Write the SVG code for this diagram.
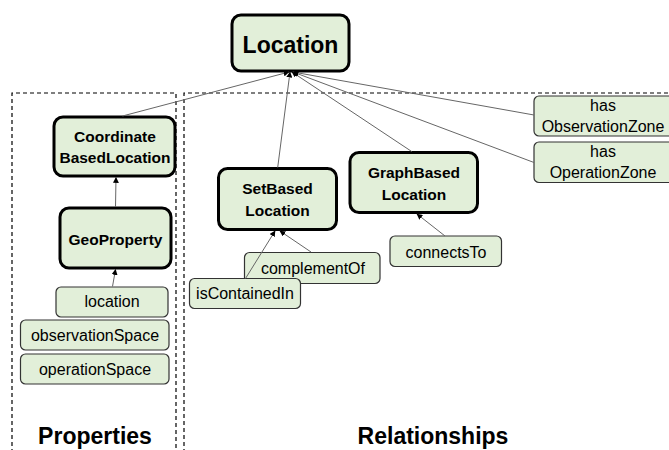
<svg xmlns="http://www.w3.org/2000/svg" width="669" height="450" viewBox="0 0 669 450">
<style>
.main{fill:#e2efd9;stroke:#000;stroke-width:3}
.prop{fill:#e2efd9;stroke:#333;stroke-width:1.2}
.t{font-family:"Liberation Sans",Arial,sans-serif;text-anchor:middle;fill:#000}
.b{font-weight:bold;font-size:15.5px}
.r{font-size:16px}
.h{font-weight:bold;font-size:23px}
.dash{fill:none;stroke:#000;stroke-width:1.2;stroke-dasharray:4,3}
.c{stroke:#666;stroke-width:1;fill:none;marker-end:url(#ah)}
</style>
<defs>
<marker id="ah" viewBox="0 0 10 10" refX="9" refY="5" markerWidth="6" markerHeight="6" markerUnits="userSpaceOnUse" orient="auto">
<path d="M0,0 L10,5 L0,10 z" fill="#000"/>
</marker>
</defs>
<rect width="669" height="450" fill="#fff"/>
<g id="groups">
<path class="dash" d="M12,460 V93 H176 V460"/>
<path class="dash" d="M184,460 V93 H680"/>
<text class="t h" x="95" y="444">Properties</text>
<text class="t h" x="433" y="444">Relationships</text>
</g>
<g id="n-location">
<rect class="main" x="232" y="15" width="117" height="56" rx="9"/>
<text class="t" x="290.5" y="52.5" style="font-weight:bold;font-size:23px">Location</text>
</g>
<g id="n-cbl">
<rect class="main" x="54" y="117" width="121" height="59" rx="9"/>
<text class="t b" x="115" y="142">Coordinate</text>
<text class="t b" x="115" y="163">BasedLocation</text>
</g>
<g id="n-geo">
<rect class="main" x="60" y="208" width="111" height="60" rx="9"/>
<text class="t b" x="115.5" y="245">GeoProperty</text>
</g>
<g id="n-locprop">
<rect class="prop" x="56" y="287" width="112" height="30" rx="5"/>
<text class="t r" x="112" y="307">location</text>
</g>
<g id="n-obsspace">
<rect class="prop" x="20.5" y="320" width="148.5" height="30" rx="5"/>
<text class="t r" x="95" y="340.5">observationSpace</text>
</g>
<g id="n-opspace">
<rect class="prop" x="20.5" y="354" width="148.5" height="30" rx="5"/>
<text class="t r" x="95" y="375">operationSpace</text>
</g>
<g id="n-setbased">
<rect class="main" x="218.5" y="168.5" width="118" height="61" rx="9"/>
<text class="t b" x="277.5" y="194">SetBased</text>
<text class="t b" x="277.5" y="216">Location</text>
</g>
<g id="n-graphbased">
<rect class="main" x="350" y="152.5" width="127.5" height="60" rx="9"/>
<text class="t b" x="414" y="178">GraphBased</text>
<text class="t b" x="414" y="199.5">Location</text>
</g>
<g id="n-complement">
<rect class="prop" x="244.5" y="252.5" width="135.5" height="31" rx="5"/>
<text class="t r" x="313" y="274">complementOf</text>
</g>
<g id="n-contained">
<rect class="prop" x="189.5" y="278.5" width="111" height="30" rx="5"/>
<text class="t r" x="245" y="298.5">isContainedIn</text>
</g>
<g id="n-connects">
<rect class="prop" x="390" y="236" width="111.5" height="30.5" rx="5"/>
<text class="t r" x="446" y="258">connectsTo</text>
</g>
<g id="n-obszone">
<rect class="prop" x="534" y="96" width="140" height="40" rx="5"/>
<text class="t r" x="603" y="111">has</text>
<text class="t r" x="603" y="132">ObservationZone</text>
</g>
<g id="n-opzone">
<rect class="prop" x="534" y="142" width="140" height="40.5" rx="5"/>
<text class="t r" x="603" y="157">has</text>
<text class="t r" x="603" y="178">OperationZone</text>
</g>
<g id="connectors">
<line class="c" x1="122.5" y1="116" x2="289" y2="72"/>
<line class="c" x1="277.7" y1="167.5" x2="290" y2="72"/>
<line class="c" x1="411.7" y1="151.5" x2="292" y2="72"/>
<line class="c" x1="534" y1="115" x2="293" y2="72"/>
<line class="c" x1="534" y1="162.5" x2="293" y2="72"/>
<line class="c" x1="115.5" y1="207" x2="116" y2="177.5"/>
<line class="c" x1="112.5" y1="286.5" x2="115.5" y2="269.5"/>
<line class="c" x1="445" y1="236" x2="417" y2="214"/>
<line class="c" x1="311" y1="252" x2="280" y2="231"/>
<line class="c" x1="245.5" y1="278.5" x2="275" y2="231"/>
</g>
</svg>
